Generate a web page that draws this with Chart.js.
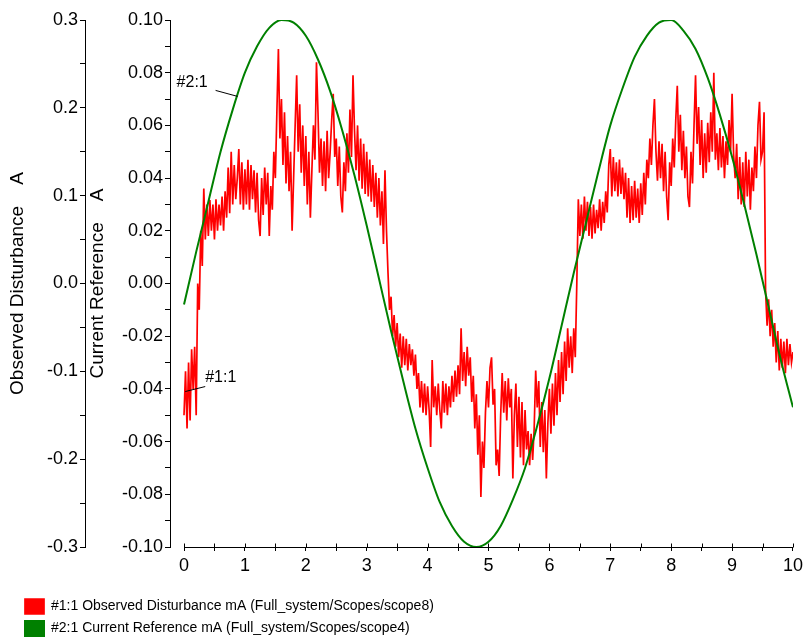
<!DOCTYPE html>
<html>
<head>
<meta charset="utf-8">
<script src="https://cdn.jsdelivr.net/npm/chart.js@4"></script>
<style>
  body { margin: 0; background: #fff; }
  #wrap { width: 807px; height: 643px; }
</style>
</head>
<body>
<div id="wrap"><canvas id="scopeChart"></canvas></div>
<script>
// sample spacing of the two scope traces (seconds)
const distStep = 0.025;
const refStep = 0.2;

// #1:1 Observed Disturbance (left axis units), one row per 0.5 s
const distValues = [
  -0.150, -0.100, -0.165, -0.090, -0.156, -0.075, -0.120, -0.072, -0.150, 0.000,
  -0.030, 0.060, 0.020, 0.108, 0.050, 0.090, 0.054, 0.095, 0.060, 0.090,
  0.050, 0.096, 0.060, 0.090, 0.066, 0.099, 0.060, 0.105, 0.075, 0.132,
  0.080, 0.150, 0.090, 0.135, 0.096, 0.120, 0.153, 0.090, 0.138, 0.084,
  0.130, 0.090, 0.141, 0.084, 0.135, 0.096, 0.129, 0.081, 0.126, 0.072,
  0.054, 0.120, 0.078, 0.132, 0.090, 0.126, 0.054, 0.111, 0.084, 0.150,
  0.120, 0.195, 0.267, 0.165, 0.210, 0.135, 0.195, 0.114, 0.168, 0.105,
  0.150, 0.060, 0.120, 0.180, 0.237, 0.150, 0.204, 0.126, 0.180, 0.111,
  0.168, 0.090, 0.150, 0.075, 0.129, 0.180, 0.141, 0.252, 0.195, 0.126,
  0.165, 0.111, 0.162, 0.105, 0.174, 0.120, 0.150, 0.186, 0.216, 0.144,
  0.165, 0.111, 0.156, 0.099, 0.081, 0.138, 0.105, 0.171, 0.126, 0.198,
  0.144, 0.237, 0.174, 0.129, 0.180, 0.117, 0.165, 0.108, 0.159, 0.102,
  0.150, 0.099, 0.141, 0.093, 0.135, 0.087, 0.126, 0.075, 0.120, 0.066,
  0.105, 0.045, 0.129, 0.060, 0.012, -0.030, -0.015, -0.060, -0.036, -0.072,
  -0.045, -0.084, -0.057, -0.096, -0.060, -0.093, -0.063, -0.099, -0.069, -0.093,
  -0.075, -0.105, -0.081, -0.120, -0.102, -0.141, -0.111, -0.147, -0.114, -0.150,
  -0.117, -0.144, -0.186, -0.087, -0.141, -0.117, -0.150, -0.114, -0.144, -0.165,
  -0.111, -0.147, -0.114, -0.150, -0.117, -0.141, -0.105, -0.135, -0.099, -0.129,
  -0.093, -0.126, -0.051, -0.111, -0.078, -0.117, -0.072, -0.105, -0.084, -0.135,
  -0.105, -0.165, -0.126, -0.195, -0.150, -0.243, -0.180, -0.210, -0.147, -0.111,
  -0.141, -0.096, -0.084, -0.138, -0.120, -0.207, -0.189, -0.219, -0.150, -0.102,
  -0.147, -0.111, -0.156, -0.108, -0.141, -0.120, -0.222, -0.150, -0.114, -0.186,
  -0.129, -0.198, -0.135, -0.207, -0.144, -0.189, -0.168, -0.207, -0.171, -0.201,
  -0.165, -0.099, -0.141, -0.111, -0.186, -0.135, -0.192, -0.144, -0.222, -0.159,
  -0.120, -0.171, -0.114, -0.162, -0.102, -0.150, -0.087, -0.135, -0.078, -0.126,
  -0.066, -0.111, -0.051, -0.096, -0.060, -0.102, -0.051, -0.084, 0.000, 0.096,
  0.054, 0.090, 0.051, 0.099, 0.060, 0.093, 0.054, 0.087, 0.051, 0.090,
  0.057, 0.084, 0.063, 0.096, 0.060, 0.093, 0.069, 0.105, 0.081, 0.135,
  0.153, 0.099, 0.144, 0.105, 0.138, 0.099, 0.141, 0.102, 0.132, 0.096,
  0.126, 0.075, 0.120, 0.069, 0.111, 0.072, 0.117, 0.075, 0.108, 0.069,
  0.114, 0.078, 0.126, 0.090, 0.141, 0.120, 0.165, 0.135, 0.180, 0.210,
  0.150, 0.117, 0.162, 0.120, 0.159, 0.105, 0.150, 0.099, 0.072, 0.138,
  0.111, 0.165, 0.132, 0.186, 0.225, 0.150, 0.192, 0.129, 0.174, 0.120,
  0.156, 0.099, 0.087, 0.150, 0.114, 0.180, 0.237, 0.159, 0.201, 0.135,
  0.186, 0.120, 0.171, 0.126, 0.183, 0.138, 0.195, 0.150, 0.240, 0.141,
  0.171, 0.129, 0.177, 0.132, 0.168, 0.120, 0.162, 0.135, 0.186, 0.150,
  0.216, 0.147, 0.120, 0.159, 0.096, 0.144, 0.090, 0.138, 0.087, 0.150,
  0.099, 0.141, 0.084, 0.132, 0.105, 0.156, 0.120, 0.180, 0.207, 0.141,
  0.150, 0.195, -0.009, -0.048, -0.018, -0.060, -0.030, -0.072, -0.045, -0.090,
  -0.054, -0.099, -0.063, -0.096, -0.066, -0.102, -0.063, -0.093, -0.069, -0.090,
  -0.078
];

// #2:1 Current Reference (middle axis units)
const refValues = [
  -0.008, 0.012, 0.031, 0.050, 0.066, 0.080, 0.090, 0.097, 0.100, 0.099,
  0.094, 0.085, 0.073, 0.058, 0.041, 0.022, 0.002, -0.018, -0.037, -0.055,
  -0.070, -0.083, -0.092, -0.098, -0.100, -0.098, -0.092, -0.082, -0.070, -0.054,
  -0.036, -0.016, 0.004, 0.023, 0.042, 0.060, 0.074, 0.086, 0.094, 0.099,
  0.100, 0.096, 0.089, 0.078, 0.064, 0.048, 0.030, 0.011, -0.009, -0.029,
  -0.047
];

const xTicks = [0, 0.5, 1, 1.5, 2, 2.5, 3, 3.5, 4, 4.5, 5, 5.5, 6, 6.5, 7, 7.5, 8, 8.5, 9, 9.5, 10];
const distTicks = [-0.3, -0.25, -0.2, -0.15, -0.1, -0.05, 0, 0.05, 0.1, 0.15, 0.2, 0.25, 0.3];
const refTicks = [-0.1, -0.09, -0.08, -0.07, -0.06, -0.05, -0.04, -0.03, -0.02, -0.01, 0,
  0.01, 0.02, 0.03, 0.04, 0.05, 0.06, 0.07, 0.08, 0.09, 0.1];

const seriesNames = [
  "#1:1 Observed Disturbance mA (Full_system/Scopes/scope8)",
  "#2:1 Current Reference mA (Full_system/Scopes/scope4)"
];

// trace tags drawn next to the curves
const tagText = ["#2:1", "#1:1"];
const tagAxis = ["yRef", "yDist"];
const tagX = [0.88, 0.02];
const tagY = [0.071, -0.123];

const FONT = "'Liberation Sans', Arial, sans-serif";

const toPoints = (vals, step) => vals.map((v, i) => ({ x: i * step, y: v }));

// x axis baseline only spans 0..10, ticks cross the line
const xAxisLine = {
  id: "xAxisLine",
  afterDraw(chart) {
    const { ctx, chartArea, scales } = chart;
    const x = scales.x;
    const y = Math.round(chartArea.bottom) + 0.5;
    ctx.save();
    ctx.strokeStyle = "#000";
    ctx.lineWidth = 1;
    ctx.beginPath();
    ctx.moveTo(x.getPixelForValue(0), y);
    ctx.lineTo(x.getPixelForValue(10), y);
    xTicks.forEach(v => {
      const px = Math.round(x.getPixelForValue(v)) + 0.5;
      ctx.moveTo(px, y - 4);
      ctx.lineTo(px, y);
    });
    ctx.stroke();
    ctx.restore();
  }
};

const traceTags = {
  id: "traceTags",
  afterDatasetsDraw(chart) {
    const { ctx, scales } = chart;
    const offs = [[-61, -14, -22, -6], [20, -14, 20, -5]];
    ctx.save();
    ctx.strokeStyle = "#000";
    ctx.fillStyle = "#000";
    ctx.lineWidth = 1;
    ctx.font = "16px " + FONT;
    ctx.textBaseline = "middle";
    tagText.forEach((t, i) => {
      const ax = scales.x.getPixelForValue(tagX[i]);
      const ay = scales[tagAxis[i]].getPixelForValue(tagY[i]);
      const o = offs[i];
      ctx.beginPath();
      ctx.moveTo(ax + o[2], ay + o[3]);
      ctx.lineTo(ax, ay);
      ctx.stroke();
      ctx.fillText(t, ax + o[0], ay + o[1]);
    });
    ctx.restore();
  }
};

const legendShift = {
  id: "legendShift",
  afterLayout(chart) {
    const lg = chart.legend;
    lg.left += 18;
    lg.right += 18;
    lg.top += 3;
    lg.bottom += 3;
  }
};

Chart.defaults.font.family = FONT;
Chart.defaults.color = "#000";

new Chart(document.getElementById("scopeChart"), {
  type: "line",
  data: {
    datasets: [{
      label: seriesNames[0],
      data: toPoints(distValues, distStep),
      yAxisID: "yDist",
      borderColor: "#ff0000",
      backgroundColor: "#ff0000",
      borderWidth: 1.7,
      pointRadius: 0,
      tension: 0,
      order: 1
    }, {
      label: seriesNames[1],
      data: toPoints(refValues, refStep),
      yAxisID: "yRef",
      borderColor: "#008000",
      backgroundColor: "#008000",
      borderWidth: 2,
      pointRadius: 0,
      cubicInterpolationMode: "monotone",
      order: 0
    }]
  },
  options: {
    responsive: true,
    maintainAspectRatio: false,
    animation: false,
    layout: { padding: { top: 20, right: 11, left: 0, bottom: 0 } },
    plugins: {
      tooltip: { enabled: false },
      legend: {
        position: "bottom",
        align: "start",
        labels: {
          boxWidth: 19,
          boxHeight: 15,
          padding: 7,
          font: { size: 14 },
          sort: (a, b) => a.datasetIndex - b.datasetIndex
        }
      }
    },
    scales: {
      x: {
        type: "linear",
        min: -0.23,
        max: 10,
        afterBuildTicks: s => { s.ticks = xTicks.map(v => ({ value: v })); },
        afterFit: s => { s.height = 42; },
        border: { display: false },
        grid: { drawOnChartArea: false, tickLength: 4, color: "#000" },
        ticks: {
          autoSkip: false,
          maxRotation: 0,
          padding: 4,
          font: { size: 18 },
          callback: v => Number.isInteger(v) ? String(v) : ""
        }
      },
      yDist: {
        position: "left",
        weight: 2,
        min: -0.3,
        max: 0.3,
        afterBuildTicks: s => { s.ticks = distTicks.map(v => ({ value: v })); },
        afterFit: s => { s.width = 85; },
        border: { display: true, color: "#000" },
        grid: { drawOnChartArea: false, tickLength: 5, color: "#000" },
        ticks: {
          autoSkip: false,
          padding: 2,
          font: { size: 18 },
          callback: (v, i) => i % 2 === 0 ? v.toFixed(1) : ""
        },
        title: {
          display: true,
          text: "Observed Disturbance    A",
          font: { size: 19 },
          padding: { top: 6, bottom: 0 }
        }
      },
      yRef: {
        position: "left",
        weight: 1,
        min: -0.1,
        max: 0.1,
        afterBuildTicks: s => { s.ticks = refTicks.map(v => ({ value: v })); },
        afterFit: s => { s.width = 85; },
        border: { display: true, color: "#000" },
        grid: { drawOnChartArea: false, tickLength: 5, color: "#000" },
        ticks: {
          autoSkip: false,
          padding: 2,
          font: { size: 18 },
          callback: (v, i) => i % 2 === 0 ? v.toFixed(2) : ""
        },
        title: {
          display: true,
          text: "Current Reference    A",
          font: { size: 19 },
          padding: { top: 1, bottom: 0 }
        }
      }
    }
  },
  plugins: [xAxisLine, traceTags, legendShift]
});
</script>
</body>
</html>
